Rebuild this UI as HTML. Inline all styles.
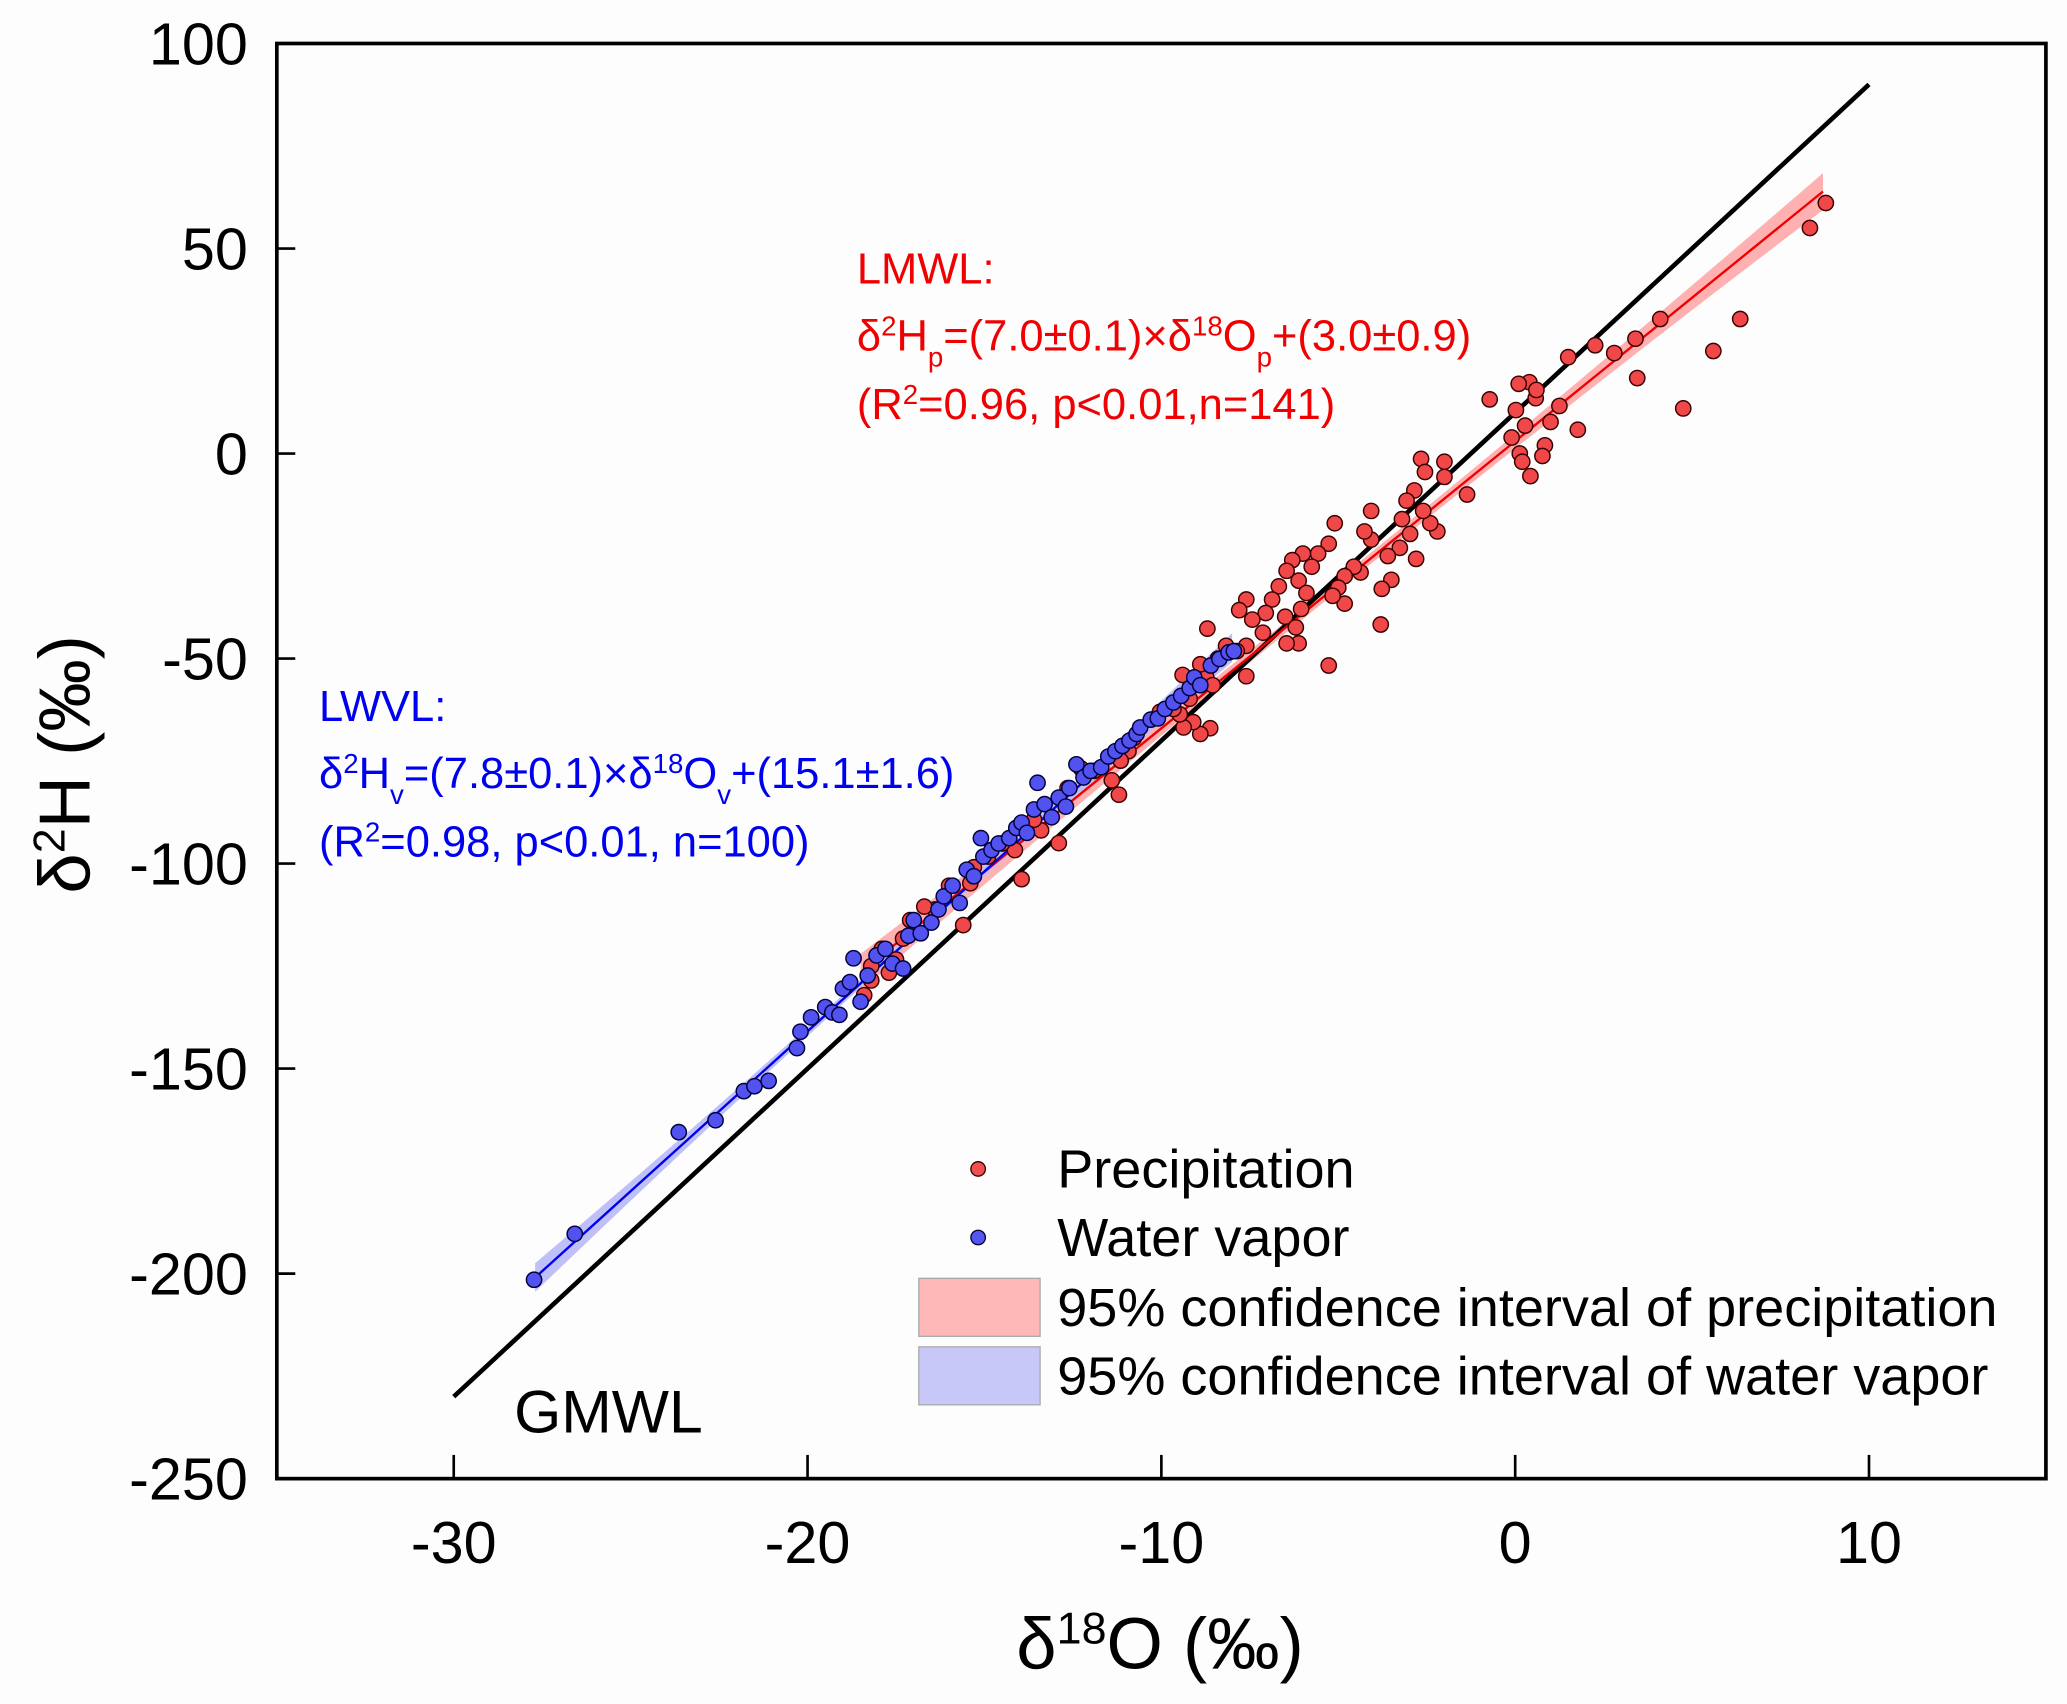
<!DOCTYPE html>
<html><head><meta charset="utf-8"><style>
html,body{margin:0;padding:0;background:#fdfdfd;}
svg{display:block;font-family:"Liberation Sans",Arial,sans-serif;}
</style></head><body>
<svg id="chart" width="2067" height="1704" viewBox="0 0 1568 1293" preserveAspectRatio="none" xmlns="http://www.w3.org/2000/svg">
<rect x="0" y="0" width="1568" height="1293" fill="#fdfdfd"/>
<g id="bands"></g><g id="lines"></g><g id="pts"></g>
<g id="axes"></g>
<text x="650" y="215" fill="#f00000" font-size="33">LMWL:</text>
<text x="650" y="266" fill="#f00000" font-size="33">δ<tspan baseline-shift="super" font-size="21">2</tspan>H<tspan baseline-shift="sub" font-size="21">p</tspan>=(7.0±0.1)×δ<tspan baseline-shift="super" font-size="21">18</tspan>O<tspan baseline-shift="sub" font-size="21">p</tspan>+(3.0±0.9)</text>
<text x="650" y="318" fill="#f00000" font-size="33">(R<tspan baseline-shift="super" font-size="21">2</tspan>=0.96, p&lt;0.01,n=141)</text>
<text x="242" y="547" fill="#0000f0" font-size="33">LWVL:</text>
<text x="242" y="598" fill="#0000f0" font-size="33">δ<tspan baseline-shift="super" font-size="21">2</tspan>H<tspan baseline-shift="sub" font-size="21">v</tspan>=(7.8±0.1)×δ<tspan baseline-shift="super" font-size="21">18</tspan>O<tspan baseline-shift="sub" font-size="21">v</tspan>+(15.1±1.6)</text>
<text x="242" y="650" fill="#0000f0" font-size="33">(R<tspan baseline-shift="super" font-size="21">2</tspan>=0.98, p&lt;0.01, n=100)</text>
<text x="390" y="1087" font-size="46">GMWL</text>
<g>
<circle cx="742" cy="887" r="5.5" fill="#f05050" stroke="#300" stroke-width="1"/>
<text x="802" y="901" font-size="41">Precipitation</text>
<circle cx="742" cy="939" r="5.5" fill="#5555f0" stroke="#003" stroke-width="1"/>
<text x="802" y="953" font-size="41">Water vapor</text>
<rect x="697" y="970" width="92" height="44" fill="#ffb8b8" stroke="#aaa"/>
<text x="802" y="1006" font-size="41">95% confidence interval of precipitation</text>
<rect x="697" y="1022" width="92" height="44" fill="#c8c8f8" stroke="#aaa"/>
<text x="802" y="1058" font-size="41">95% confidence interval of water vapor</text>
</g>
<text x="880" y="1266" font-size="55" text-anchor="middle">δ<tspan baseline-shift="super" font-size="34">18</tspan>O (‰)</text>
<text transform="translate(68,580) rotate(-90)" font-size="55" text-anchor="middle">δ<tspan baseline-shift="super" font-size="34">2</tspan>H (‰)</text>
</svg>
<script>
const xTicks=[-30,-20,-10,0,10];
const yTicks=[100,50,0,-50,-100,-150,-200,-250];
const precipX=[8.78,8.33,6.36,5.6,4.75,4.1,3.4,3.45,2.8,2.26,1.5,1.77,1.25,1.0,0.84,0.77,0.58,0.4,0.6,0.1,0.02,0.28,0.13,0.2,0.43,-0.1,-0.72,-1.36,-2,-2.0,-2.2,-2.4,-2.6,-2.66,-2.55,-2.85,-3.07,-3.2,-2.97,-2.8,-3.26,-3.6,-3.5,-3.77,-3.8,-4.07,-4.26,-4.07,-4.37,-4.56,-4.82,-4.82,-5,-5.27,-5.1,-5.16,-5.27,-5.57,-5.75,-6.0,-6.3,-6.46,-6.12,-5.9,-6.05,-6.5,-6.2,-6.12,-6.46,-6.68,-6.87,-7.05,-7.13,-7.43,-7.6,-7.8,-7.6,-7.87,-7.6,-8.17,-8.4,-8.7,-8.73,-8.9,-8.55,-8.62,-8.9,-9.1,-9.37,-9.48,-9.2,-9.4,-9.66,-10.04,-10.78,-10.93,-11.15,-11.2,-11.4,-11.9,-12.27,-12.65,-12.9,-13.4,-13.6,-13.95,-14.14,-14.5,-14.9,-15.3,-15.4,-15.6,-16,-16.4,-16.7,-17.1,-17.3,-17.5,-17.7,-17.9,-18.2,-18.2,-18.4];
const precipY=[61.1,55,32.8,25,11,32.8,28,18.4,24.5,26.4,23.5,5.8,11.6,7.7,2,-0.6,13.5,17.4,15.5,17,10.6,6.8,0,-2,-5.5,3.9,13.2,-10,-2,-5.7,-19,-17,-14,-1.3,-4.5,-9,-11.5,-16,-19.6,-25.7,-23,-25,-30.8,-33,-41.7,-21,-19,-14,-29,-27.6,-29.9,-36.6,-32.7,-22,-17,-34.7,-51.7,-24.4,-27.6,-24.4,-26,-28.6,-31,-34,-37.9,-39.8,-42.4,-46.3,-46.3,-32.4,-35.6,-38.9,-43.7,-40.5,-35.6,-38.2,-46.9,-48.2,-54.3,-46.9,-50,-42.7,-54.6,-51.4,-56.5,-67,-68.4,-65.5,-66.8,-63.6,-59.8,-54,-62.3,-63,-69.4,-72.6,-74.9,-83.2,-79.7,-77.4,-76.8,-81.6,-95,-91.9,-89.3,-103.8,-96.7,-95.1,-98.3,-100.9,-104.8,-115,-105.4,-111.2,-110.5,-113.8,-118.3,-123.4,-126.6,-120.8,-128.5,-125,-132.1];
const vaporX=[-27.73,-26.58,-23.64,-22.6,-21.8,-21.5,-21.1,-20.3,-20.2,-19.9,-19.5,-19.3,-19.1,-19,-18.8,-18.7,-18.5,-18.3,-18.05,-17.8,-17.6,-17.3,-17.15,-17,-16.8,-16.5,-16.3,-16.15,-15.9,-15.7,-15.5,-15.3,-15.1,-15.03,-14.8,-14.6,-14.3,-14.1,-13.95,-13.8,-13.6,-13.5,-13.3,-13.1,-12.9,-12.7,-12.6,-12.4,-12.2,-12,-11.7,-11.5,-11.3,-11.1,-10.9,-10.7,-10.6,-10.3,-10.1,-9.9,-9.66,-9.44,-9.2,-9.07,-8.9,-8.6,-8.36,-8.1,-7.95];
const vaporY=[-201.5,-190.3,-165.5,-162.6,-155.5,-154.3,-153,-145,-141,-137.5,-135,-136.3,-136.9,-130.5,-128.9,-123.1,-133.7,-127.3,-122.4,-120.8,-124.4,-125.6,-117.6,-113.8,-117,-114.4,-111.2,-108,-105.4,-109.6,-101.5,-103.1,-93.8,-98.3,-96.7,-95.1,-93.8,-91.3,-90,-92.5,-86.8,-80.3,-85.5,-88.7,-83.9,-86.1,-81.6,-75.8,-79,-77.4,-76.5,-73.9,-72.6,-71.3,-70,-68.4,-66.8,-64.9,-64.6,-62.3,-60.7,-59.1,-57.2,-54.6,-56.5,-51.7,-50.1,-48.5,-48.2];
const gmwl=[8,10,-30,10];
const lmwl=[7.0,3.0,-18.5,8.7];
const lwvl=[7.8,15.1,-27.7,-8];
const NS="http://www.w3.org/2000/svg";
const L=210,R=1552,T=33,B=1122,X0=-35,X1=15,Y0=-250,Y1=100;
const sx=v=>L+(v-X0)/(X1-X0)*(R-L);
const sy=v=>B-(v-Y0)/(Y1-Y0)*(B-T);
function mk(tag,attrs,parent){const e=document.createElementNS(NS,tag);for(const k in attrs)e.setAttribute(k,attrs[k]);document.getElementById(parent).appendChild(e);return e;}
function band(fit,col,w0,name){
  const[m,c,a,b]=fit;const mid=(a+b)/2,half=(b-a)/2;const up=[],dn=[];
  for(let i=0;i<=40;i++){const x=a+(b-a)*i/40;const t=(x-mid)/half;const w=w0*(0.3+0.7*t*t);
    up.push(sx(x)+','+sy(m*x+c+w));dn.unshift(sx(x)+','+sy(m*x+c-w));}
  const p=mk('polygon',{points:up.concat(dn).join(' '),fill:col},'bands');
  
  
}
band(lmwl,'#ffb0b0',4.5,'precip-ci-band');
band(lwvl,'#c0c0f8',3.5,'vapor-ci-band');
function line(fit,col,w,name){const[m,c,a,b]=fit;
  const l=mk('line',{x1:sx(a),y1:sy(m*a+c),x2:sx(b),y2:sy(m*b+c),stroke:col,'stroke-width':w},'lines');
  
  
}
line(gmwl,'#000',3.5,'gmwl-line');
precipX.forEach((x,i)=>{const c=mk('circle',{cx:sx(x),cy:sy(precipY[i]),r:5.8,fill:'#f04848',stroke:'#3a0000','stroke-width':1.1},'pts');
  
  });
vaporX.forEach((x,i)=>{const c=mk('circle',{cx:sx(x),cy:sy(vaporY[i]),r:5.8,fill:'#5252f0',stroke:'#00003a','stroke-width':1.1},'pts');
  
  });
line(lmwl,'#f00000',1.8,'lmwl-line');
line(lwvl,'#0000f0',1.8,'lwvl-line');
const fr=mk('rect',{x:L,y:T,width:R-L,height:B-T,fill:'none',stroke:'#000','stroke-width':2.8},'axes');


xTicks.forEach(v=>{const t=mk('line',{x1:sx(v),x2:sx(v),y1:B,y2:B-18,stroke:'#000','stroke-width':2},'axes');
  
  
  const s=mk('text',{x:sx(v),y:B+64,'font-size':45,'text-anchor':'middle'},'axes');s.textContent=v;
  
  });
yTicks.forEach(v=>{if(v>Y0&&v<Y1){const t=mk('line',{x1:L,x2:L+14,y1:sy(v),y2:sy(v),stroke:'#000','stroke-width':2},'axes');
  
  }
  const s=mk('text',{x:L-22,y:sy(v)+16,'font-size':45,'text-anchor':'end'},'axes');s.textContent=v;
  
  });
</script>
</body></html>
